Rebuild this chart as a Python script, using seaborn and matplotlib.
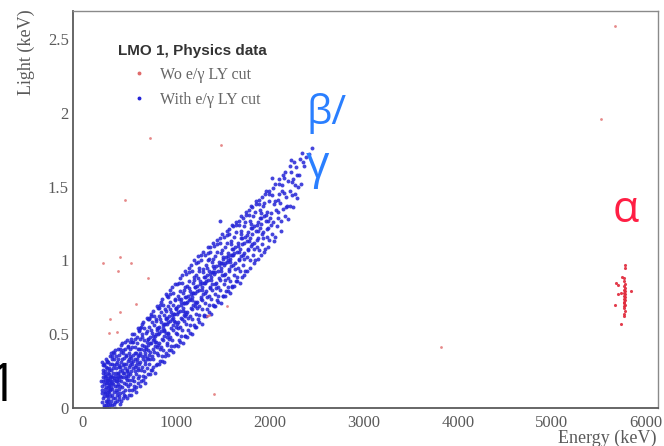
import numpy as np
import pandas as pd
import seaborn as sns
import matplotlib.pyplot as plt
from matplotlib.lines import Line2D
from matplotlib.ticker import MultipleLocator, FuncFormatter

# ---- data (energy keV, light keV) ----
# blue band: events that pass the e/gamma light-yield cut
blue_200_500 = [
    (205, 0.04), (212, 0.12), (218, 0.21), (221, 0.07), (226, 0.30), (230, 0.16), (233, 0.02), (236, 0.25), (240, 0.10), (243, 0.19),
    (247, 0.05), (250, 0.14), (252, 0.28), (255, 0.22), (258, 0.09), (261, 0.17), (264, 0.01), (266, 0.32), (269, 0.12), (272, 0.24),
    (275, 0.06), (277, 0.19), (280, 0.15), (283, 0.27), (286, 0.10), (289, 0.03), (291, 0.21), (294, 0.13), (297, 0.30), (299, 0.08),
    (224, 0.18), (238, 0.13), (257, 0.04), (268, 0.20), (285, 0.17), (215, 0.26), (246, 0.23), (274, 0.11), (292, 0.16), (262, 0.08),
    (302, 0.18), (305, 0.05), (308, 0.26), (311, 0.13), (314, 0.33), (317, 0.21), (320, 0.09), (323, 0.16), (326, 0.38), (329, 0.24),
    (332, 0.11), (335, 0.19), (338, 0.03), (341, 0.29), (344, 0.15), (347, 0.22), (350, 0.07), (353, 0.35), (356, 0.18), (359, 0.27),
    (362, 0.12), (365, 0.20), (368, 0.31), (371, 0.09), (374, 0.24), (377, 0.16), (380, 0.40), (383, 0.21), (386, 0.13), (389, 0.28),
    (392, 0.06), (395, 0.19), (398, 0.25), (318, 0.30), (364, 0.15),
    (402, 0.22), (405, 0.10), (409, 0.31), (412, 0.18), (416, 0.38), (419, 0.26), (423, 0.14), (426, 0.44), (430, 0.21), (433, 0.29),
    (437, 0.07), (440, 0.34), (444, 0.24), (447, 0.17), (451, 0.27), (454, 0.40), (458, 0.12), (461, 0.30), (465, 0.22), (468, 0.35),
    (472, 0.19), (475, 0.26), (479, 0.46), (482, 0.15), (486, 0.32), (489, 0.24), (493, 0.09), (496, 0.37), (499, 0.28), (463, 0.20),
]
blue_500_800 = [
    (503, 0.29), (507, 0.16), (511, 0.40), (515, 0.25), (519, 0.34), (523, 0.12), (527, 0.45), (531, 0.30), (535, 0.21), (539, 0.36),
    (543, 0.27), (547, 0.50), (551, 0.18), (555, 0.33), (559, 0.28), (563, 0.41), (567, 0.23), (571, 0.37), (575, 0.14), (579, 0.31),
    (583, 0.44), (587, 0.26), (591, 0.35), (595, 0.20), (599, 0.52), (540, 0.32),
    (604, 0.36), (608, 0.22), (612, 0.47), (616, 0.31), (620, 0.40), (624, 0.18), (628, 0.55), (632, 0.35), (636, 0.28), (640, 0.43),
    (644, 0.33), (648, 0.58), (652, 0.25), (656, 0.39), (660, 0.46), (664, 0.30), (668, 0.37), (672, 0.21), (676, 0.51), (680, 0.41),
    (684, 0.34), (688, 0.45), (692, 0.27), (696, 0.60), (699, 0.39),
    (703, 0.43), (708, 0.30), (712, 0.55), (717, 0.38), (721, 0.48), (726, 0.26), (730, 0.62), (735, 0.44), (739, 0.35), (744, 0.51),
    (748, 0.40), (753, 0.66), (757, 0.33), (762, 0.47), (766, 0.56), (771, 0.42), (775, 0.49), (780, 0.29), (784, 0.60), (789, 0.45),
    (793, 0.53), (798, 0.37), (750, 0.46),
]
blue_800_1200 = [
    (802, 0.50), (806, 0.36), (811, 0.62), (815, 0.44), (820, 0.55), (824, 0.32), (829, 0.70), (833, 0.52), (838, 0.41), (842, 0.58),
    (847, 0.47), (851, 0.74), (856, 0.39), (860, 0.54), (865, 0.63), (869, 0.49), (874, 0.57), (878, 0.35), (883, 0.67), (887, 0.51),
    (892, 0.60), (896, 0.44), (868, 0.53),
    (902, 0.57), (906, 0.43), (911, 0.69), (915, 0.51), (920, 0.62), (924, 0.39), (929, 0.77), (933, 0.59), (938, 0.48), (942, 0.65),
    (947, 0.54), (951, 0.82), (956, 0.46), (960, 0.61), (965, 0.70), (969, 0.56), (974, 0.64), (978, 0.42), (983, 0.74), (987, 0.58),
    (992, 0.67), (996, 0.51), (958, 0.60),
    (1003, 0.64), (1008, 0.50), (1013, 0.76), (1018, 0.58), (1023, 0.69), (1028, 0.46), (1033, 0.85), (1038, 0.66), (1043, 0.55), (1048, 0.72),
    (1053, 0.61), (1058, 0.90), (1063, 0.53), (1068, 0.68), (1073, 0.78), (1078, 0.63), (1083, 0.71), (1088, 0.49), (1093, 0.82), (1098, 0.65),
    (1046, 0.74), (1081, 0.59),
    (1103, 0.71), (1108, 0.57), (1113, 0.83), (1118, 0.65), (1123, 0.76), (1128, 0.53), (1133, 0.92), (1138, 0.73), (1143, 0.62), (1148, 0.79),
    (1153, 0.68), (1158, 0.97), (1163, 0.60), (1168, 0.75), (1173, 0.85), (1178, 0.70), (1183, 0.78), (1188, 0.56), (1193, 0.89), (1198, 0.72),
    (1150, 0.74),
]
blue_1200_1600 = [
    (1203, 0.78), (1208, 0.64), (1214, 0.90), (1219, 0.72), (1225, 0.83), (1230, 0.60), (1236, 0.99), (1241, 0.80), (1247, 0.69), (1252, 0.86),
    (1258, 0.75), (1263, 1.04), (1269, 0.67), (1274, 0.82), (1280, 0.92), (1285, 0.77), (1291, 0.85), (1296, 0.63), (1244, 0.95), (1277, 0.73),
    (1303, 0.85), (1308, 0.71), (1314, 0.97), (1319, 0.79), (1325, 0.90), (1330, 0.67), (1336, 1.05), (1341, 0.87), (1347, 0.76), (1352, 0.93),
    (1358, 0.82), (1363, 1.09), (1369, 0.74), (1374, 0.89), (1380, 0.99), (1385, 0.84), (1391, 0.92), (1396, 0.70), (1345, 1.01), (1377, 0.80),
    (1403, 0.91), (1408, 0.77), (1414, 1.03), (1419, 0.85), (1425, 0.96), (1430, 0.73), (1436, 1.11), (1441, 0.93), (1447, 0.82), (1452, 0.99),
    (1458, 0.88), (1463, 1.15), (1469, 0.80), (1474, 0.95), (1480, 1.05), (1485, 0.90), (1491, 0.98), (1496, 0.76), (1468, 1.27),
    (1503, 0.97), (1508, 0.84), (1514, 1.09), (1519, 0.91), (1525, 1.02), (1530, 0.79), (1536, 1.17), (1541, 0.99), (1547, 0.88), (1552, 1.05),
    (1558, 0.94), (1563, 1.21), (1569, 0.86), (1574, 1.01), (1580, 1.11), (1585, 0.96), (1591, 1.04), (1596, 0.82), (1555, 1.00),
]
blue_1600_2000 = [
    (1604, 1.04), (1610, 0.90), (1616, 1.16), (1622, 0.98), (1628, 1.09), (1634, 0.86), (1640, 1.24), (1646, 1.06), (1652, 0.95), (1658, 1.12),
    (1664, 1.01), (1670, 1.27), (1676, 0.93), (1682, 1.08), (1688, 1.18), (1694, 1.03), (1699, 0.89),
    (1705, 1.11), (1711, 0.97), (1717, 1.23), (1724, 1.05), (1730, 1.16), (1737, 0.93), (1743, 1.31), (1749, 1.13), (1756, 1.02), (1762, 1.19),
    (1768, 1.08), (1775, 1.34), (1781, 1.00), (1787, 1.15), (1794, 1.25), (1799, 1.10),
    (1806, 1.18), (1812, 1.04), (1819, 1.30), (1826, 1.12), (1832, 1.23), (1839, 1.00), (1845, 1.38), (1852, 1.20), (1859, 1.09), (1865, 1.26),
    (1872, 1.15), (1878, 1.41), (1885, 1.07), (1891, 1.22), (1898, 1.32),
    (1906, 1.25), (1913, 1.11), (1920, 1.37), (1927, 1.19), (1934, 1.30), (1941, 1.08), (1948, 1.45), (1955, 1.27), (1962, 1.16), (1969, 1.33),
    (1976, 1.22), (1983, 1.47), (1990, 1.14), (1997, 1.29),
]
blue_2000_2450 = [
    (2006, 1.32), (2014, 1.18), (2022, 1.44), (2030, 1.26), (2038, 1.38), (2046, 1.16), (2054, 1.52), (2062, 1.34), (2070, 1.23), (2078, 1.41),
    (2086, 1.29), (2095, 1.55),
    (2108, 1.39), (2117, 1.27), (2126, 1.51), (2135, 1.35), (2144, 1.46), (2153, 1.30), (2162, 1.60), (2171, 1.43), (2180, 1.37), (2192, 1.54),
    (2206, 1.47), (2216, 1.37), (2226, 1.60), (2236, 1.44), (2246, 1.55), (2256, 1.67), (2266, 1.51), (2278, 1.63), (2290, 1.42),
    (2305, 1.58), (2318, 1.69), (2330, 1.52), (2344, 1.73), (2360, 1.64), (2378, 1.70), (2410, 1.72), (2440, 1.76),
]
# more points inside the dense part of the band
blue_fill_low = [
    (263, 0.19), (208, 0.10), (281, 0.23), (229, 0.01), (254, 0.17), (296, 0.12), (217, 0.29), (271, 0.05), (239, 0.21), (288, 0.26),
    (211, 0.15), (259, 0.31), (234, 0.08), (278, 0.14), (249, 0.02), (222, 0.24), (293, 0.19), (267, 0.27), (244, 0.11), (203, 0.18),
    (357, 0.24), (309, 0.14), (384, 0.33), (327, 0.07), (372, 0.18), (341, 0.37), (303, 0.22), (366, 0.11), (393, 0.29), (316, 0.17),
    (349, 0.04), (378, 0.23), (331, 0.27), (396, 0.15), (312, 0.35), (361, 0.30), (337, 0.20), (388, 0.08),
    (447, 0.30), (411, 0.21), (488, 0.41), (428, 0.11), (470, 0.25), (436, 0.39), (403, 0.28), (461, 0.16), (494, 0.33), (419, 0.33),
    (452, 0.08), (481, 0.22), (431, 0.24), (498, 0.19), (414, 0.43), (466, 0.36),
    (556, 0.37), (509, 0.23), (584, 0.48), (526, 0.19), (571, 0.29), (538, 0.45), (502, 0.35), (565, 0.25), (593, 0.40), (517, 0.31),
    (548, 0.15), (578, 0.33), (533, 0.41), (597, 0.27), (513, 0.47),
    (653, 0.42), (607, 0.30), (686, 0.52), (623, 0.26), (671, 0.35), (638, 0.50), (601, 0.40), (662, 0.32), (694, 0.47), (617, 0.37),
    (646, 0.22), (679, 0.40), (631, 0.48), (698, 0.33), (611, 0.54),
]
blue_fill_mid = [
    (756, 0.49), (709, 0.36), (786, 0.59), (724, 0.33), (771, 0.45), (738, 0.58), (702, 0.47), (763, 0.38), (795, 0.54), (716, 0.44),
    (747, 0.28), (779, 0.50), (731, 0.53), (799, 0.41), (713, 0.61),
    (855, 0.56), (808, 0.43), (887, 0.66), (823, 0.40), (872, 0.52), (837, 0.65), (801, 0.54), (863, 0.46), (894, 0.61), (816, 0.51),
    (846, 0.35), (879, 0.57), (831, 0.60), (898, 0.48), (812, 0.68),
    (955, 0.63), (908, 0.50), (987, 0.73), (923, 0.47), (972, 0.59), (937, 0.72), (901, 0.61), (963, 0.53), (994, 0.68), (916, 0.58),
    (946, 0.42), (979, 0.64), (931, 0.67), (998, 0.55), (912, 0.75),
    (1055, 0.70), (1008, 0.57), (1087, 0.80), (1023, 0.54), (1072, 0.66), (1037, 0.79), (1001, 0.68), (1063, 0.60), (1094, 0.75), (1016, 0.65),
    (1046, 0.49), (1079, 0.71), (1031, 0.74), (1098, 0.62),
    (1155, 0.77), (1108, 0.64), (1187, 0.87), (1123, 0.61), (1172, 0.73), (1137, 0.86), (1101, 0.75), (1163, 0.67), (1194, 0.82), (1116, 0.72),
    (1146, 0.56), (1179, 0.78), (1131, 0.81), (1198, 0.69),
    (1255, 0.84), (1208, 0.71), (1287, 0.94), (1223, 0.68), (1272, 0.80), (1237, 0.93), (1201, 0.82), (1263, 0.74), (1294, 0.89), (1216, 0.79),
    (1246, 0.63), (1279, 0.85), (1231, 0.88),
    (1355, 0.91), (1308, 0.78), (1387, 1.01), (1323, 0.75), (1372, 0.87), (1337, 1.00), (1301, 0.89), (1363, 0.81), (1394, 0.96), (1316, 0.86),
    (1346, 0.70), (1379, 0.92), (1331, 0.95),
]
blue_fill_high = [
    (1455, 0.97), (1408, 0.84), (1487, 1.07), (1423, 0.81), (1472, 0.93), (1437, 1.06), (1401, 0.95), (1463, 0.87), (1494, 1.02), (1416, 0.92),
    (1446, 0.76), (1479, 0.98),
    (1555, 1.03), (1508, 0.90), (1587, 1.13), (1523, 0.87), (1572, 0.99), (1537, 1.12), (1501, 1.01), (1563, 0.93), (1594, 1.08), (1516, 0.98),
    (1546, 0.82), (1579, 1.04),
    (1655, 1.10), (1608, 0.97), (1687, 1.20), (1623, 0.94), (1672, 1.06), (1637, 1.19), (1601, 1.08), (1663, 1.00), (1694, 1.15), (1616, 1.05),
    (1646, 0.89),
    (1755, 1.17), (1708, 1.04), (1787, 1.27), (1723, 1.01), (1772, 1.13), (1737, 1.26), (1701, 1.15), (1763, 1.07), (1794, 1.22), (1716, 1.12),
    (1855, 1.24), (1808, 1.11), (1887, 1.34), (1823, 1.08), (1872, 1.20), (1837, 1.33), (1801, 1.22), (1863, 1.14), (1894, 1.29),
    (1955, 1.31), (1908, 1.18), (1987, 1.40), (1923, 1.15), (1972, 1.27), (1937, 1.39), (1901, 1.29), (1963, 1.21),
    (2055, 1.40), (2012, 1.24), (2131, 1.47), (2083, 1.33), (2164, 1.36), (2027, 1.49), (2149, 1.56), (2098, 1.45),
    (2231, 1.53), (2284, 1.58), (2212, 1.64), (2352, 1.67), (2268, 1.45),
]
# points along the upper and lower edges of the band
blue_edges = [
    (228, 0.29), (251, 0.33), (276, 0.31), (290, 0.35), (245, 0.00), (270, 0.03), (214, 0.31), (283, 0.01),
    (306, 0.37), (334, 0.33), (352, 0.39), (385, 0.36), (318, 0.02), (346, 0.00), (370, 0.05), (399, 0.03),
    (404, 0.40), (428, 0.37), (457, 0.45), (484, 0.42), (415, 0.05), (443, 0.09), (471, 0.07), (495, 0.12),
    (506, 0.45), (529, 0.50), (561, 0.47), (588, 0.54), (520, 0.09), (545, 0.13), (574, 0.11), (596, 0.17),
    (603, 0.53), (634, 0.57), (658, 0.54), (690, 0.61), (613, 0.15), (641, 0.19), (667, 0.17), (694, 0.23),
    (706, 0.60), (733, 0.64), (761, 0.62), (792, 0.69), (718, 0.23), (742, 0.26), (769, 0.24), (796, 0.30),
    (804, 0.68), (836, 0.72), (861, 0.70), (890, 0.77), (814, 0.30), (843, 0.32), (871, 0.31), (895, 0.37),
    (905, 0.76), (934, 0.80), (962, 0.78), (991, 0.84), (917, 0.36), (944, 0.39), (970, 0.38), (997, 0.43),
    (1006, 0.84), (1035, 0.88), (1061, 0.85), (1091, 0.93), (1014, 0.42), (1044, 0.45), (1070, 0.44), (1095, 0.49),
    (1104, 0.91), (1134, 0.95), (1162, 0.93), (1190, 1.00), (1117, 0.48), (1141, 0.51), (1170, 0.50), (1196, 0.55),
    (1207, 0.98), (1233, 1.03), (1262, 1.00), (1289, 1.06), (1214, 0.55), (1242, 0.58), (1270, 0.57), (1297, 0.62),
    (1305, 1.04), (1334, 1.09), (1361, 1.06), (1392, 1.12), (1318, 0.62), (1344, 0.65), (1373, 0.64), (1398, 0.69),
    (1406, 1.10), (1433, 1.14), (1462, 1.12), (1489, 1.18), (1413, 0.69), (1442, 0.72), (1471, 0.71), (1497, 0.76),
    (1504, 1.16), (1536, 1.20), (1560, 1.18), (1591, 1.24), (1517, 0.76), (1548, 0.79), (1573, 0.78), (1598, 0.83),
    (1609, 1.23), (1638, 1.26), (1668, 1.24), (1693, 1.30), (1619, 0.83), (1651, 0.86), (1679, 0.85),
    (1706, 1.29), (1740, 1.33), (1771, 1.31), (1797, 1.37), (1722, 0.90), (1758, 0.93), (1789, 0.95),
    (1810, 1.36), (1844, 1.40), (1876, 1.38), (1829, 0.98), (1866, 1.01), (1897, 1.04),
    (1912, 1.43), (1951, 1.47), (1985, 1.45), (1933, 1.06), (1974, 1.09),
    (2024, 1.56), (2089, 1.52), (2140, 1.58), (2044, 1.13), (2110, 1.20), (2187, 1.28), (2238, 1.36), (2221, 1.68), (2297, 1.50),
]

# red: events without the cut (scattered ones + alpha peak)
red_scatter = [
    (5667, 2.59), (5521, 1.96), (3823, 0.41), (716, 1.83), (1475, 1.78), (457, 1.41), (220, 0.98), (404, 1.025),
    (518, 0.98), (376, 0.93), (695, 0.88), (574, 0.705), (1539, 0.69), (290, 0.60), (397, 0.65), (280, 0.505),
    (369, 0.515), (1344, 0.63), (1330, 0.62), (1397, 0.094),
]
red_alpha = [
    (5777, 0.97), (5777, 0.95), (5748, 0.89), (5688, 0.85), (5706, 0.835), (5847, 0.79), (5734, 0.78), (5699, 0.77),
    (5670, 0.70), (5741, 0.57), (5772, 0.88), (5768, 0.86), (5779, 0.84), (5765, 0.83), (5775, 0.81), (5770, 0.80),
    (5781, 0.79), (5766, 0.78), (5774, 0.77), (5769, 0.76), (5778, 0.75), (5764, 0.74), (5776, 0.73), (5771, 0.72),
    (5767, 0.71), (5780, 0.70), (5773, 0.69), (5768, 0.68), (5775, 0.66), (5770, 0.64), (5772, 0.62),
]

legend_title = "LMO 1, Physics data"
legend_labels = ["Wo e/\u03b3 LY cut", "With e/\u03b3 LY cut"]

blue = pd.DataFrame(blue_200_500 + blue_500_800 + blue_800_1200 + blue_1200_1600
                    + blue_1600_2000 + blue_2000_2450
                    + blue_fill_low + blue_fill_mid + blue_fill_high + blue_edges,
                    columns=["energy", "light"])
red_s = pd.DataFrame(red_scatter, columns=["energy", "light"])
red_a = pd.DataFrame(red_alpha, columns=["energy", "light"])

sns.set_style("white")
serif = "Liberation Serif"
grey = "#5a5a5a"

fig = plt.figure(figsize=(6.64, 4.46), dpi=100)
W, H = 664, 446
ax = fig.add_axes([73 / W, (H - 408) / H, (658 - 73) / W, (408 - 11) / H])

sns.scatterplot(data=blue, x="energy", y="light", ax=ax, color="#2424d6",
                s=8, linewidth=0, alpha=0.85, legend=False)
sns.scatterplot(data=red_s, x="energy", y="light", ax=ax, color="#e06a6a",
                s=4, linewidth=0, alpha=0.8, legend=False)
sns.scatterplot(data=red_a, x="energy", y="light", ax=ax, color="#e0283a",
                s=5, linewidth=0, alpha=0.9, legend=False)

ax.set_xlim(-100, 6130)
ax.set_ylim(0, 2.69)
ax.set_xlabel("")
ax.set_ylabel("")
ax.xaxis.set_major_locator(MultipleLocator(1000))
ax.xaxis.set_minor_locator(MultipleLocator(200))
ax.yaxis.set_major_locator(MultipleLocator(0.5))
ax.yaxis.set_minor_locator(MultipleLocator(0.1))
ax.yaxis.set_major_formatter(FuncFormatter(lambda v, p: "%g" % v))
ax.xaxis.set_major_formatter(FuncFormatter(lambda v, p: "%d" % v))

ax.tick_params(axis="both", which="both", direction="in", colors=grey,
               width=1.1, labelsize=12, labelcolor=grey)
ax.tick_params(axis="y", which="major", length=13, pad=3)
ax.tick_params(axis="y", which="minor", length=6.5)
ax.tick_params(axis="x", which="major", length=8.5, pad=5)
ax.tick_params(axis="x", which="minor", length=4)
for lab in ax.get_xticklabels() + ax.get_yticklabels():
    lab.set_family(serif)
for side in ["left", "bottom"]:
    ax.spines[side].set_color(grey)
    ax.spines[side].set_linewidth(1.3)
for side in ["top", "right"]:
    ax.spines[side].set_color("#8a8a8a")
    ax.spines[side].set_linewidth(1.0)

# axis titles, ROOT style (at the ends)
fig.text(657 / W, 1 - 430 / H, "Energy (keV)", ha="right", va="top",
         fontsize=13, family=serif, color=grey)
fig.text(26 / W, 1 - 9 / H, "Light (keV)", ha="center", va="top",
         rotation=90, fontsize=13, family=serif, color=grey)

# legend
handles = [Line2D([], [], ls="", marker="o", ms=1.8, color="#e06a6a"),
           Line2D([], [], ls="", marker="o", ms=1.8, color="#2424d8")]
leg = ax.legend(handles, legend_labels, title=legend_title, loc="upper left",
                bbox_to_anchor=((118 - 73) / 585, (408 - 44) / 397),
                frameon=False, borderpad=0, borderaxespad=0,
                handlelength=2.6, handletextpad=0.05, labelspacing=0.55,
                prop={"family": serif, "size": 11.5},
                title_fontproperties={"family": "Liberation Sans", "weight": "bold", "size": 11})
leg._legend_box.align = "left"
leg.get_title().set_color("#333333")
for t in leg.get_texts():
    t.set_color("#666666")

# slide annotations
fig.text(306 / W, 1 - 124 / H, "\u03b2/", ha="left", va="baseline",
         fontsize=29, family="Open Sans", color="#2a7fff")
fig.text(306 / W, 1 - 178 / H, "\u03b3", ha="left", va="baseline",
         fontsize=33, family="Open Sans", color="#2a7fff")
fig.text(613 / W, 1 - 222 / H, "\u03b1", ha="left", va="baseline",
         fontsize=31, family="Open Sans", color="#ff1f44")
fig.text(17 / W, 1 - 401 / H, "1", ha="right", va="baseline",
         fontsize=38, family="Open Sans", color="black")

fig.savefig("out.png", dpi=100)
